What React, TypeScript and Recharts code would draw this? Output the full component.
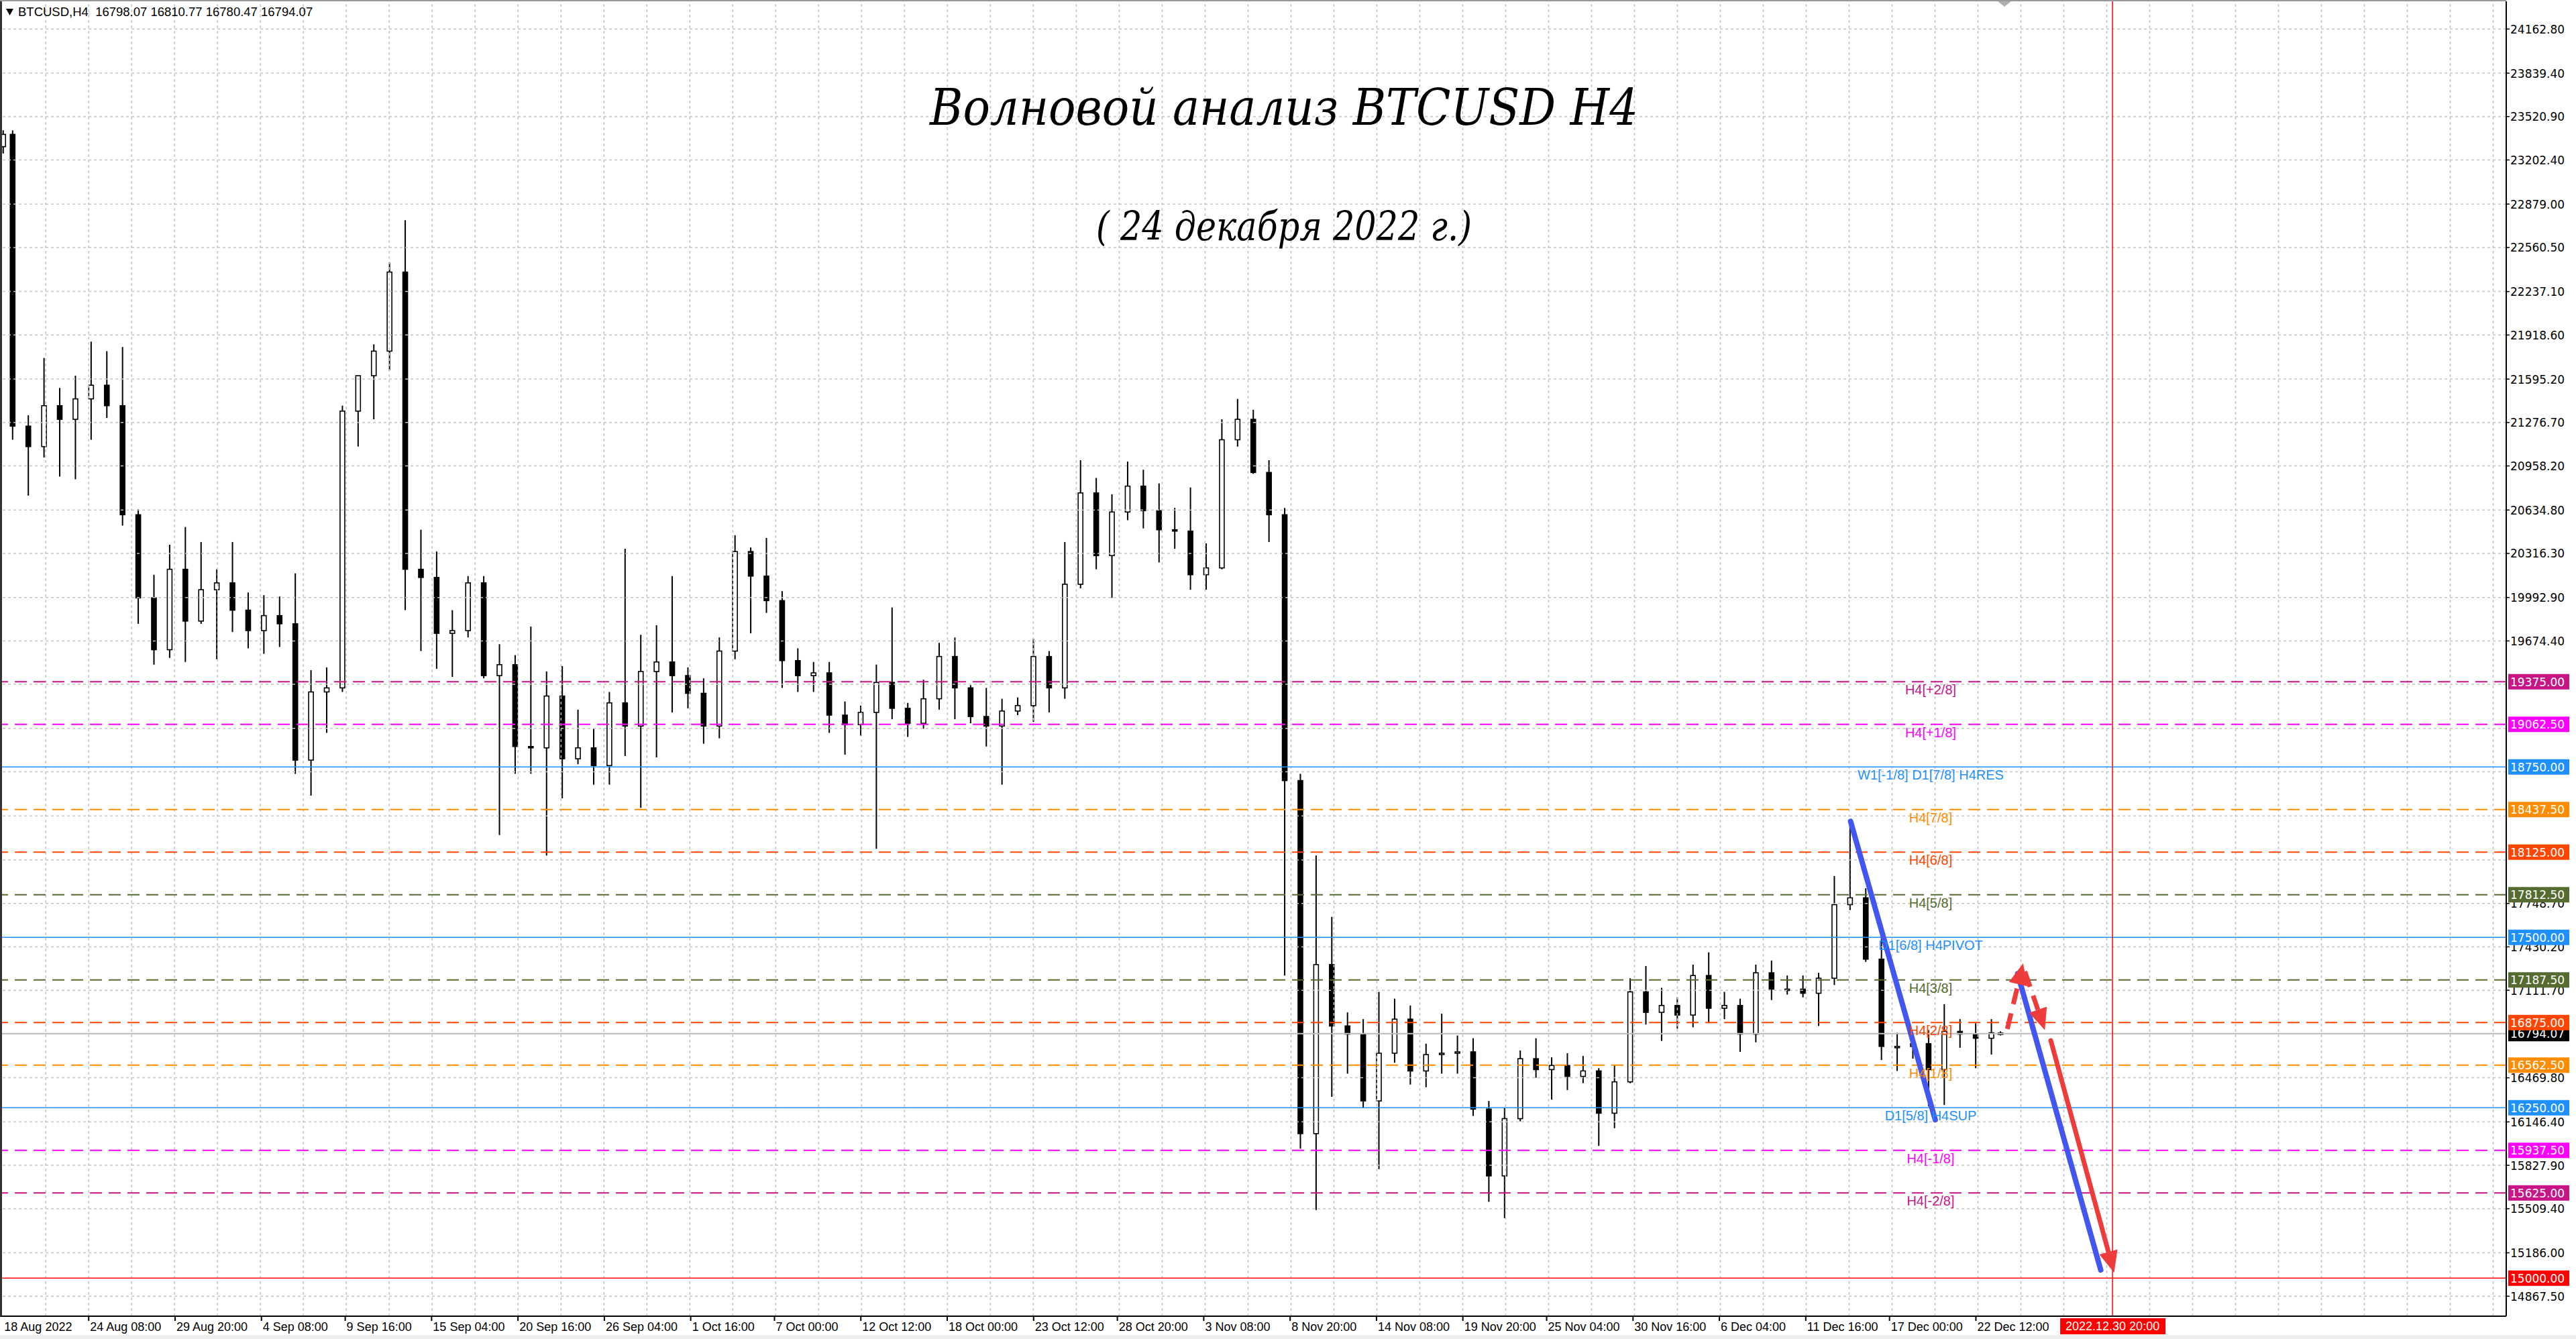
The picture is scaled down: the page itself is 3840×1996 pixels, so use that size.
import React from 'react';
import { ComposedChart, Bar, XAxis, YAxis, ReferenceLine, ReferenceDot } from 'recharts';

// daily OHLC, 18 Aug .. 24 Dec 2022
const opens = [
  23300, 23390, 21250, 21100, 21400, 21300, 21450, 21550, 21400, 20600,
  19990, 19610, 20200, 19820, 20050, 20100, 19900, 19750, 19860, 19800,
  18800, 19300, 19330, 21360, 21620, 21800, 22380, 20200, 20140, 19730,
  19750, 20100, 19420, 19500, 18900, 18890, 19270, 18810, 18890, 18760,
  19220, 19050, 19450, 19520, 19420, 19290, 19050, 19600, 20330, 20150,
  19970, 19530, 19420, 19440, 19130, 19060, 19150, 19370, 19180, 19070,
  19250, 19560, 19330, 19120, 19050, 19160, 19200, 19560, 19330, 20090,
  20760, 20300, 20620, 20810, 20630, 20490, 20480, 20160, 20210, 21150,
  21300, 20910, 20600, 18650, 16060, 17300, 16850, 16790, 16300, 16650,
  16900, 16520, 16640, 16650, 16660, 16240, 15750, 16170, 16610, 16530,
  16560, 16480, 16520, 16210, 16440, 17100, 16950, 17000, 16930, 17220,
  16980, 17000, 16790, 17240, 17120, 17120, 17090, 17200, 17740, 17790,
  17340, 16700, 16700, 16720, 16530, 16810, 16790, 16760, 16798.07,
];
const highs = [
  23420, 23420, 21330, 21750, 21530, 21620, 21870, 21800, 21830, 20640,
  20160, 20380, 20510, 20400, 20200, 20400, 20030, 20010, 20000, 20170,
  19460, 19480, 21400, 21620, 21850, 22450, 22760, 20490, 20330, 19900,
  20150, 20150, 19650, 19570, 19780, 19450, 19490, 19170, 19030, 19300,
  20350, 19720, 19790, 20150, 19480, 19400, 19700, 20450, 20360, 20430,
  20040, 19620, 19520, 19520, 19230, 19200, 19500, 19920, 19220, 19390,
  19660, 19700, 19350, 19330, 19250, 19260, 19690, 19600, 20400, 21000,
  20870, 20750, 20990, 20930, 20830, 20650, 20800, 20390, 21300, 21450,
  21370, 21000, 20650, 18700, 18100, 17650, 16950, 16900, 17100, 17050,
  17000, 16720, 16940, 16780, 16760, 16300, 16250, 16670, 16760, 16620,
  16650, 16630, 16540, 16560, 17200, 17290, 17130, 17060, 17300, 17390,
  17100, 17050, 17300, 17330, 17220, 17220, 17240, 17950, 18350, 17860,
  17530, 16800, 16790, 16820, 17010, 16900, 16870, 16900, 16810.77,
];
const lows = [
  23250, 21150, 20740, 21020, 20880, 20860, 21150, 21310, 20520, 19800,
  19500, 19550, 19520, 19800, 19540, 19740, 19620, 19580, 19630, 18700,
  18540, 19000, 19300, 21100, 21300, 21660, 19900, 19600, 19470, 19410,
  19700, 19400, 18250, 18700, 18700, 18100, 18520, 18770, 18620, 18620,
  18830, 18450, 18820, 19150, 19180, 18920, 18960, 19540, 19730, 19880,
  19330, 19300, 19300, 19000, 18840, 18980, 18150, 19100, 18970, 19030,
  19170, 19100, 19070, 18900, 18620, 19130, 19080, 19150, 19250, 20060,
  20200, 19990, 20560, 20500, 20250, 20350, 20050, 20050, 20200, 21100,
  20900, 20400, 17220, 15950, 15500, 16330, 16500, 16250, 15800, 16580,
  16420, 16400, 16500, 16500, 16190, 15560, 15440, 16150, 16470, 16310,
  16380, 16430, 15970, 16100, 16430, 16860, 16740, 16830, 16840, 16870,
  16900, 16660, 16730, 17040, 17080, 17060, 16850, 17150, 17700, 17320,
  16600, 16520, 16610, 16260, 16270, 16690, 16540, 16640, 16780.47,
];
const closes = [
  23390, 21250, 21100, 21400, 21300, 21450, 21550, 21400, 20600, 19990,
  19610, 20200, 19820, 20050, 20100, 19900, 19750, 19860, 19800, 18800,
  19300, 19330, 21360, 21620, 21800, 22380, 20200, 20140, 19730, 19750,
  20100, 19420, 19500, 18900, 18890, 19270, 18810, 18890, 18760, 19220,
  19050, 19450, 19520, 19420, 19290, 19050, 19600, 20330, 20150, 19970,
  19530, 19420, 19440, 19130, 19060, 19150, 19370, 19180, 19070, 19250,
  19560, 19330, 19120, 19050, 19160, 19200, 19560, 19330, 20090, 20760,
  20300, 20620, 20810, 20630, 20490, 20480, 20160, 20210, 21150, 21300,
  20910, 20600, 18650, 16060, 17300, 16850, 16790, 16300, 16650, 16900,
  16520, 16640, 16650, 16660, 16240, 15750, 16170, 16610, 16530, 16560,
  16480, 16520, 16210, 16440, 17100, 16950, 17000, 16930, 17220, 16980,
  17000, 16790, 17240, 17120, 17120, 17090, 17200, 17740, 17790, 17340,
  16700, 16700, 16720, 16530, 16810, 16790, 16760, 16800, 16794.07,
];

// x is measured in days since 18 Aug 2022 00:00
const xTickTimes = [0.87, 6.333, 11.833, 17.333, 22.667, 28.167, 33.667, 39.167, 44.667, 50, 55.5, 61,
  66.5, 71.833, 77.333, 82.833, 88.333, 93.833, 99.167, 104.667, 110.167, 115.667, 121, 126.5];
const xTickLabels = ['18 Aug 2022', '24 Aug 08:00', '29 Aug 20:00', '4 Sep 08:00', '9 Sep 16:00', '15 Sep 04:00',
  '20 Sep 16:00', '26 Sep 04:00', '1 Oct 16:00', '7 Oct 00:00', '12 Oct 12:00', '18 Oct 00:00', '23 Oct 12:00',
  '28 Oct 20:00', '3 Nov 08:00', '8 Nov 20:00', '14 Nov 08:00', '19 Nov 20:00', '25 Nov 04:00', '30 Nov 16:00',
  '6 Dec 04:00', '11 Dec 16:00', '17 Dec 00:00', '22 Dec 12:00'];

const yGridTicks = [24162.8, 23839.4, 23520.9, 23202.4, 22879.0, 22560.5, 22237.1, 21918.6, 21595.2, 21276.7,
  20958.2, 20634.8, 20316.3, 19992.9, 19674.4, 19355.9, 19032.5, 18714.0, 18390.6, 18067.2, 17748.7, 17430.2,
  17111.7, 16793.2, 16469.8, 16146.4, 15827.9, 15509.4, 15186.0, 14867.5];

const levelPrices = [19375, 19062.5, 18750, 18437.5, 18125, 17812.5, 17500, 17187.5, 16875, 16562.5, 16250, 15937.5, 15625];
const levelNames = ['H4[+2/8]', 'H4[+1/8]', 'W1[-1/8] D1[7/8] H4RES', 'H4[7/8]', 'H4[6/8]', 'H4[5/8]',
  'D1[6/8] H4PIVOT', 'H4[3/8]', 'H4[2/8]', 'H4[1/8]', 'D1[5/8] H4SUP', 'H4[-1/8]', 'H4[-2/8]'];
const levelColors = ['#C71585', '#FF00FF', '#1E90FF', '#FF8C00', '#FF4500', '#556B2F', '#1E90FF',
  '#556B2F', '#FF4500', '#FF8C00', '#1E90FF', '#FF00FF', '#C71585'];
const levelSolid = [false, false, true, false, false, false, true, false, false, false, true, false, false];

const targetPrice = 15000;
const lastPrice = 16794.07;
const projectionTime = 135.2; // 2022.12.30 20:00

// hand-drawn wave lines: [time, price] pairs
const blueWave1 = [[118.52, 18351], [123.91, 16162]];
const blueWave2 = [[129.16, 17234], [134.45, 15060]];
const redUp = [[128.5, 16828], [129.51, 17310]];
const redBack = [[129.62, 17250], [130.89, 16820]];
const redDown = [[131.27, 16743], [135.3, 15040]];

const X_DOMAIN = [0.685, 160.27];
const Y_DOMAIN = [14721, 24366];
const LABEL_T = 123.62;
const AXIS_FONT = 'DejaVu Sans, Verdana, sans-serif';
const TEXT_FONT = 'Liberation Sans, Arial, sans-serif';

const candles = opens.map((o, i) => ({
  t: i === 0 ? 0.9 : i === opens.length - 1 ? 128.08 : i + 0.5,
  o, h: highs[i], l: lows[i], c: closes[i],
}));

const gridX: number[] = [];
for (let g = 3.6; g < X_DOMAIN[1]; g += 2.734) gridX.push(g);

const boxColor: Record<string, string> = {};
levelPrices.forEach((p, i) => { boxColor[p.toFixed(2)] = levelColors[i]; });
boxColor[targetPrice.toFixed(2)] = '#FF0000';
boxColor[lastPrice.toFixed(2)] = '#000000';

const boxPrices = [...levelPrices, targetPrice, lastPrice];
// grid labels that sit under a coloured price box are not drawn
const shownGridTicks = yGridTicks.filter((g) => boxPrices.every((b) => Math.abs(b - g) >= 60));

const yTicks = [...shownGridTicks, lastPrice, ...levelPrices, targetPrice];

const seg = (pts: number[][]) => pts.map(([x, y]) => ({ x, y }));

function Candle(props: any) {
  const { x, y, width, height, payload } = props;
  if (!payload || height == null) return null;
  const { o, h, l, c } = payload;
  const cx = x + width / 2;
  const k = h > l ? height / (h - l) : 0;
  const yOf = (v: number) => y + (h - v) * k;
  const top = yOf(Math.max(o, c));
  const bot = yOf(Math.min(o, c));
  const bull = c >= o;
  return (
    <g>
      <line x1={cx} x2={cx} y1={y} y2={y + height} stroke="#000" strokeWidth={2} />
      <rect x={cx - 3.5} y={top} width={7} height={Math.max(bot - top, 2)}
        fill={bull ? '#fff' : '#000'} stroke="#000" strokeWidth={1.6} />
    </g>
  );
}

function arrowShape(color: string, width: number, dash?: string, head?: boolean) {
  return (p: any) => {
    const x1 = +p.x1, y1 = +p.y1, x2 = +p.x2, y2 = +p.y2;
    const a = Math.atan2(y2 - y1, x2 - x1);
    const hl = 32, hw = 14;
    const bx = head ? x2 - hl * Math.cos(a) : x2;
    const by = head ? y2 - hl * Math.sin(a) : y2;
    const nx = -Math.sin(a) * hw, ny = Math.cos(a) * hw;
    return (
      <g>
        <line x1={x1} y1={y1} x2={bx} y2={by} stroke={color} strokeWidth={width}
          strokeDasharray={dash} strokeLinecap={dash ? 'butt' : 'round'} />
        {head && <polygon points={`${x2},${y2} ${bx + nx},${by + ny} ${bx - nx},${by - ny}`} fill={color} />}
      </g>
    );
  };
}

function XTick(props: any) {
  const { x, y, payload } = props;
  const i = payload.index;
  return (
    <g>
      {i > 0 && <line x1={x} x2={x} y1={y} y2={y + 7} stroke="#000" strokeWidth={2} />}
      <text x={x + 2} y={y + 22} fontSize={18} fontFamily={TEXT_FONT} fill="#000">{xTickLabels[i]}</text>
    </g>
  );
}

function YTick(props: any) {
  const { x, y, payload } = props;
  const key = Number(payload.value).toFixed(2);
  const fill = boxColor[key];
  if (fill && !yGridTicks.includes(payload.value)) {
    return (
      <g>
        <rect x={x + 3} y={y - 11.5} width={91} height={23} fill={fill} />
        <text x={x + 6} y={y + 6.5} fontSize={17} fontFamily={AXIS_FONT} fill="#fff">{key}</text>
      </g>
    );
  }
  return (
    <g>
      <line x1={x} x2={x + 5} y1={y} y2={y} stroke="#000" strokeWidth={1.5} />
      <text x={x + 6} y={y + 6.5} fontSize={17} fontFamily={AXIS_FONT} fill="#000">{key}</text>
    </g>
  );
}

export default function App() {
  return (
    <div style={{ position: 'absolute', left: 0, top: 0, width: 3840, height: 1996, background: '#fff', overflow: 'hidden' }}>
      <ComposedChart width={3840} height={1996} data={candles} margin={{ top: 2, right: 0, bottom: 0, left: 0 }}>
        <XAxis type="number" dataKey="t" domain={X_DOMAIN} allowDataOverflow ticks={xTickTimes} interval={0}
          tick={<XTick />} tickLine={false} tickSize={0} tickMargin={0} height={34}
          axisLine={{ stroke: '#000', strokeWidth: 2 }} />
        <YAxis orientation="right" type="number" domain={Y_DOMAIN} allowDataOverflow ticks={yTicks} interval={0}
          tick={<YTick />} tickLine={false} tickSize={0} tickMargin={0} width={104}
          axisLine={{ stroke: '#000', strokeWidth: 2 }} />

        {gridX.map((g) => (
          <ReferenceLine key={'gx' + g} x={g} stroke="#C4C4C4" strokeWidth={1.5} strokeDasharray="4 4" />
        ))}
        {yGridTicks.map((g) => (
          <ReferenceLine key={'gy' + g} y={g} stroke="#C4C4C4" strokeWidth={1.5} strokeDasharray="4 4" />
        ))}

        <ReferenceLine y={lastPrice} stroke="#BDBDBD" strokeWidth={2} />
        <ReferenceLine y={targetPrice} stroke="#FF0000" strokeWidth={1.5} />
        {levelPrices.map((p, i) => (
          <ReferenceLine key={'lv' + p} y={p} stroke={levelColors[i]} strokeWidth={levelSolid[i] ? 1.6 : 2}
            strokeDasharray={levelSolid[i] ? undefined : '18 10'} />
        ))}
        <ReferenceLine x={projectionTime} stroke="#FF0000" strokeWidth={1.5}
          label={(lp: any) => {
            const vb = lp.viewBox || {};
            const cx = vb.x;
            const by = vb.y + vb.height;
            return (
              <g>
                <rect x={cx - 78} y={by + 3} width={157} height={24} fill="#FF0000" />
                <text x={cx} y={by + 21} textAnchor="middle" fontSize={18} fontFamily={TEXT_FONT} fill="#fff">2022.12.30 20:00</text>
              </g>
            );
          }} />

        <Bar dataKey={(d: any) => [d.l, d.h]} shape={<Candle />} barSize={7} isAnimationActive={false} />

        {levelPrices.map((p, i) => (
          <ReferenceDot key={'lt' + p} x={LABEL_T} y={p} r={0}
            shape={(s: any) => (
              <text x={s.cx} y={s.cy + 19} textAnchor="middle" fontSize={20} fontFamily={TEXT_FONT}
                fill={levelColors[i]}>{levelNames[i]}</text>
            )} />
        ))}

        <ReferenceLine segment={seg(blueWave1)} shape={arrowShape('#4456F0', 8)} />
        <ReferenceLine segment={seg(blueWave2)} shape={arrowShape('#4456F0', 8)} />
        <ReferenceLine segment={seg(redUp)} shape={arrowShape('#EE3B3B', 7, '24 14', true)} />
        <ReferenceLine segment={seg(redBack)} shape={arrowShape('#EE3B3B', 7, '24 14', true)} />
        <ReferenceLine segment={seg(redDown)} shape={arrowShape('#EE3B3B', 7, undefined, true)} />
      </ComposedChart>

      <svg width={3840} height={1996} style={{ position: 'absolute', left: 0, top: 0, pointerEvents: 'none' }}>
        <line x1={1.5} y1={0} x2={1.5} y2={1962} stroke="#333" strokeWidth={3} />
        <line x1={0} y1={1} x2={3736} y2={1} stroke="#9A9A9A" strokeWidth={2} />
        <rect x={0} y={1990} width={3840} height={6} fill="#EFEFEF" />
        <polygon points="9,13 20,13 14.5,23" fill="#000" />
        <text x={27} y={24} fontSize={18.5} fontFamily={TEXT_FONT} fill="#000" style={{ whiteSpace: 'pre' }}>
          BTCUSD,H4  16798.07 16810.77 16780.47 16794.07
        </text>
        <polygon points="2978,2 2998,2 2988,10" fill="#B0B0B0" />
        <text x={1914} y={186} textAnchor="middle" fontSize={74} fontStyle="italic" fontFamily="DejaVu Serif, serif"
          fill="#000" textLength={1056} lengthAdjust="spacingAndGlyphs">Волновой анализ BTCUSD H4</text>
        <text x={1914} y={358} textAnchor="middle" fontSize={60} fontStyle="italic" fontFamily="DejaVu Serif, serif"
          fill="#000" textLength={560} lengthAdjust="spacingAndGlyphs">( 24 декабря 2022 г.)</text>
      </svg>
    </div>
  );
}
